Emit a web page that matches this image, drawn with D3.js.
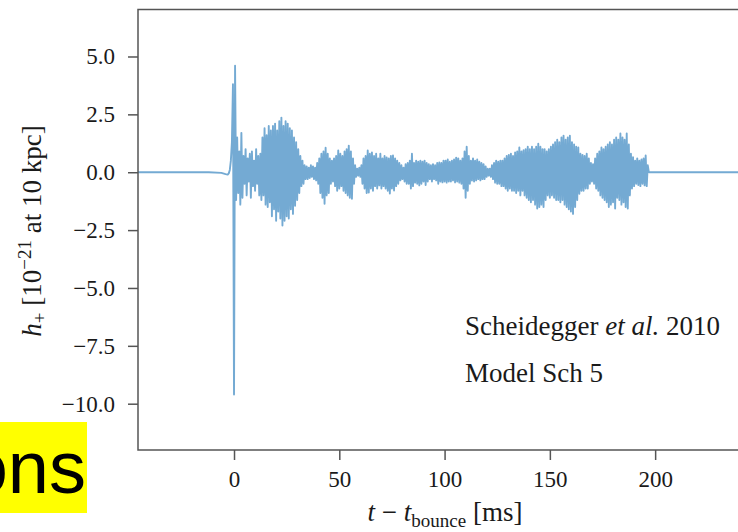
<!DOCTYPE html>
<html><head><meta charset="utf-8">
<script src="https://cdn.jsdelivr.net/npm/d3@7"></script>
<style>body{margin:0;background:#fff}svg{display:block}</style>
</head><body><svg id="c" width="738" height="532"></svg>
<script>
const xTicks = [0, 50, 100, 150, 200];
const yTicks = [5, 2.5, 0, -2.5, -5, -7.5, -10];
const xDomain = [-45.6, 246];
const yDomain = [-12.0, 7.03];

// sparse pre-bounce samples
const preTimes = [-46, -12, -6, -4, -3, -2.5];
const preStrain = [0, 0, -0.03, -0.08, -0.1, -0.05];
// dense samples, every 0.5 ms from t = -2 ms
const denseStart = -2, denseStep = 0.5;
const denseStrain = [
  0.1, 0.5, 1.3, 3.8, -9.6, 4.6, -1.2, 1.5, -0.9, 0.9,
  -1.4, 1.7, -1.1, 0.7, -0.5, 1.0, -1.0, 0.6, -0.4, 0.8,
  -1.1, 0.9, -0.6, 0.5, -0.8, 1.0, -0.5, 0.7, -1.0, 0.8,
  -1.2, 1.5, -1.0, 1.9, -1.4, 1.6, -1.5, 2.0, -1.3, 1.8,
  -1.9, 2.0, -1.6, 2.1, -2.1, 1.8, -1.7, 2.2, -2.0, 2.36,
  -2.3, 2.0, -2.1, 2.2, -1.9, 2.1, -2.0, 1.9, -1.6, 1.8,
  -1.8, 1.5, -1.45, 1.3, -1.2, 1.0, -0.9, 0.7, -0.6, 0.5,
  -0.5, 0.3, -0.3, 0.25, -0.3, 0.2, -0.25, 0.3, -0.2, 0.25,
  -0.3, 0.2, -0.35, 0.4, -0.5, 0.6, -0.9, 0.8, -1.1, 0.9,
  -1.36, 1.06, -1.0, 0.8, -0.9, 0.6, -0.5, 0.5, -0.4, 0.6,
  -0.6, 0.7, -0.8, 0.94, -0.7, 0.8, -0.6, 0.7, -0.8, 0.9,
  -0.9, 1.0, -1.0, 1.15, -1.1, 0.9, -1.15, 0.6, -0.5, 0.3,
  -0.2, 0.15, -0.15, 0.2, -0.2, 0.3, -0.5, 0.6, -0.7, 0.7,
  -0.9, 0.94, -0.88, 0.8, -0.7, 0.85, -0.8, 0.7, -0.6, 0.8,
  -0.7, 0.6, -0.57, 0.8, -0.7, 0.6, -0.6, 0.7, -0.7, 0.64,
  -0.8, 0.6, -0.92, 0.7, -0.7, 0.72, -0.79, 0.6, -0.6, 0.5,
  -0.5, 0.4, -0.35, 0.3, -0.3, 0.2, -0.4, 0.35, -0.5, 0.4,
  -0.5, 0.5, -0.7, 0.8, -0.6, 0.4, -0.45, 0.5, -0.5, 0.45,
  -0.57, 0.5, -0.5, 0.45, -0.4, 0.5, -0.55, 0.4, -0.4, 0.35,
  -0.3, 0.3, -0.4, 0.35, -0.3, 0.3, -0.35, 0.4, -0.5, 0.42,
  -0.4, 0.4, -0.44, 0.5, -0.4, 0.5, -0.45, 0.55, -0.4, 0.45,
  -0.4, 0.5, -0.35, 0.55, -0.44, 0.63, -0.4, 0.6, -0.45, 0.5,
  -0.5, 0.6, -0.7, 0.9, -1.1, 1.1, -0.8, 0.7, -0.5, 0.5,
  -0.36, 0.6, -0.4, 0.5, -0.35, 0.55, -0.3, 0.45, -0.35, 0.4,
  -0.3, 0.35, -0.3, 0.25, -0.2, 0.15, -0.15, 0.15, -0.2, 0.3,
  -0.3, 0.4, -0.45, 0.5, -0.5, 0.45, -0.5, 0.5, -0.6, 0.5,
  -0.6, 0.6, -0.7, 0.7, -0.8, 0.75, -0.7, 0.8, -0.8, 0.7,
  -0.8, 0.85, -0.9, 0.9, -0.8, 1.07, -1.0, 0.9, -0.8, 0.95,
  -1.0, 1.0, -1.1, 1.1, -1.2, 1.0, -1.3, 1.1, -1.2, 1.0,
  -1.4, 1.1, -1.57, 1.23, -1.5, 1.1, -1.4, 1.0, -1.5, 1.0,
  -1.2, 0.9, -1.0, 1.0, -1.1, 1.1, -1.0, 1.2, -1.1, 1.3,
  -1.2, 1.4, -1.2, 1.3, -1.3, 1.5, -1.2, 1.58, -1.4, 1.4,
  -1.5, 1.5, -1.6, 1.58, -1.7, 1.3, -1.8, 1.2, -1.5, 1.1,
  -1.2, 1.07, -0.93, 0.8, -0.8, 0.75, -0.8, 0.7, -0.7, 0.8,
  -0.7, 0.6, -0.5, 0.4, -0.4, 0.35, -0.5, 0.6, -0.7, 0.8,
  -0.8, 0.9, -1.0, 1.07, -1.1, 1.0, -1.2, 1.1, -1.3, 1.2,
  -1.5, 1.3, -1.4, 1.2, -1.3, 1.4, -1.57, 1.5, -1.1, 1.4,
  -1.2, 1.67, -1.4, 1.5, -1.3, 1.4, -1.5, 1.67, -1.57, 1.2,
  -1.0, 0.8, -0.7, 0.65, -0.6, 0.5, -0.5, 0.6, -0.55, 0.5,
  -0.6, 0.55, -0.5, 0.6, -0.57, 0.72, -0.6, 0.3, 0.0, 0.0
];
const postTimes = [198, 250];
const postStrain = [0, 0];

const serif = '"Liberation Serif","DejaVu Serif",serif';
const svg = d3.select('#c');
const L = 138, R = 752, T = 9.5, B = 450;
const x = d3.scaleLinear().domain(xDomain).range([L, R]);
const y = d3.scaleLinear().domain(yDomain).range([B, T]);

const data = [];
preTimes.forEach((t, i) => data.push({t, v: preStrain[i]}));
denseStrain.forEach((v, i) => data.push({t: denseStart + i * denseStep, v}));
postTimes.forEach((t, i) => data.push({t, v: postStrain[i]}));

// yellow label fragment
svg.append('rect').attr('x', 0).attr('y', 422).attr('width', 87).attr('height', 91).attr('fill', '#ffff00');
svg.append('text').attr('x', 86).attr('y', 493).attr('text-anchor', 'end')
  .attr('font-family', '"Liberation Sans",Arial,sans-serif').attr('font-size', 74).attr('fill', '#000').text('ons');

svg.append('clipPath').attr('id', 'clip').append('rect')
  .attr('x', L).attr('y', T).attr('width', R - L).attr('height', B - T);

svg.append('path').datum(data)
  .attr('clip-path', 'url(#clip)')
  .attr('fill', 'none').attr('stroke', '#74aad3').attr('stroke-width', 1.9)
  .attr('stroke-linejoin', 'round')
  .attr('d', d3.line().x(d => x(d.t)).y(d => y(d.v)));

// frame
svg.append('rect').attr('x', L).attr('y', T).attr('width', R - L).attr('height', B - T)
  .attr('fill', 'none').attr('stroke', '#555').attr('stroke-width', 1.5);

const gx = svg.append('g').attr('transform', `translate(0,${B})`)
  .call(d3.axisBottom(x).tickValues(xTicks).tickSize(10).tickPadding(11).tickFormat(d3.format('d')));
const gy = svg.append('g').attr('transform', `translate(${L},0)`)
  .call(d3.axisLeft(y).tickValues(yTicks).tickSize(10).tickPadding(13).tickFormat(d3.format('.1f')));
[gx, gy].forEach(g => {
  g.select('.domain').remove();
  g.selectAll('line').attr('stroke', '#555').attr('stroke-width', 1.5);
  g.selectAll('text').attr('font-family', serif).attr('font-size', 23).attr('fill', '#1a1a1a');
});

// x label
const xl = svg.append('text').attr('x', 445).attr('y', 521).attr('text-anchor', 'middle')
  .attr('font-family', serif).attr('font-size', 27).attr('fill', '#1a1a1a');
xl.append('tspan').attr('font-style', 'italic').text('t');
xl.append('tspan').text(' − ');
xl.append('tspan').attr('font-style', 'italic').text('t');
xl.append('tspan').attr('font-size', 19).attr('dy', 6).text('bounce');
xl.append('tspan').attr('dy', -6).text(' [ms]');

// y label
const yl = svg.append('text').attr('transform', 'translate(41,231) rotate(-90)').attr('text-anchor', 'middle')
  .attr('font-family', serif).attr('font-size', 27).attr('fill', '#1a1a1a');
yl.append('tspan').attr('font-style', 'italic').text('h');
yl.append('tspan').attr('font-size', 19).attr('dy', 5).text('+');
yl.append('tspan').attr('dy', -5).text(' [10');
yl.append('tspan').attr('font-size', 19).attr('dy', -10).text('−21');
yl.append('tspan').attr('dy', 10).text(' at 10 kpc]');

// annotation
const a1 = svg.append('text').attr('x', 465).attr('y', 335)
  .attr('font-family', serif).attr('font-size', 27).attr('fill', '#1a1a1a');
a1.append('tspan').text('Scheidegger ');
a1.append('tspan').attr('font-style', 'italic').text('et al.');
a1.append('tspan').text(' 2010');
svg.append('text').attr('x', 465).attr('y', 382)
  .attr('font-family', serif).attr('font-size', 27).attr('fill', '#1a1a1a').text('Model Sch 5');
</script></body></html>
